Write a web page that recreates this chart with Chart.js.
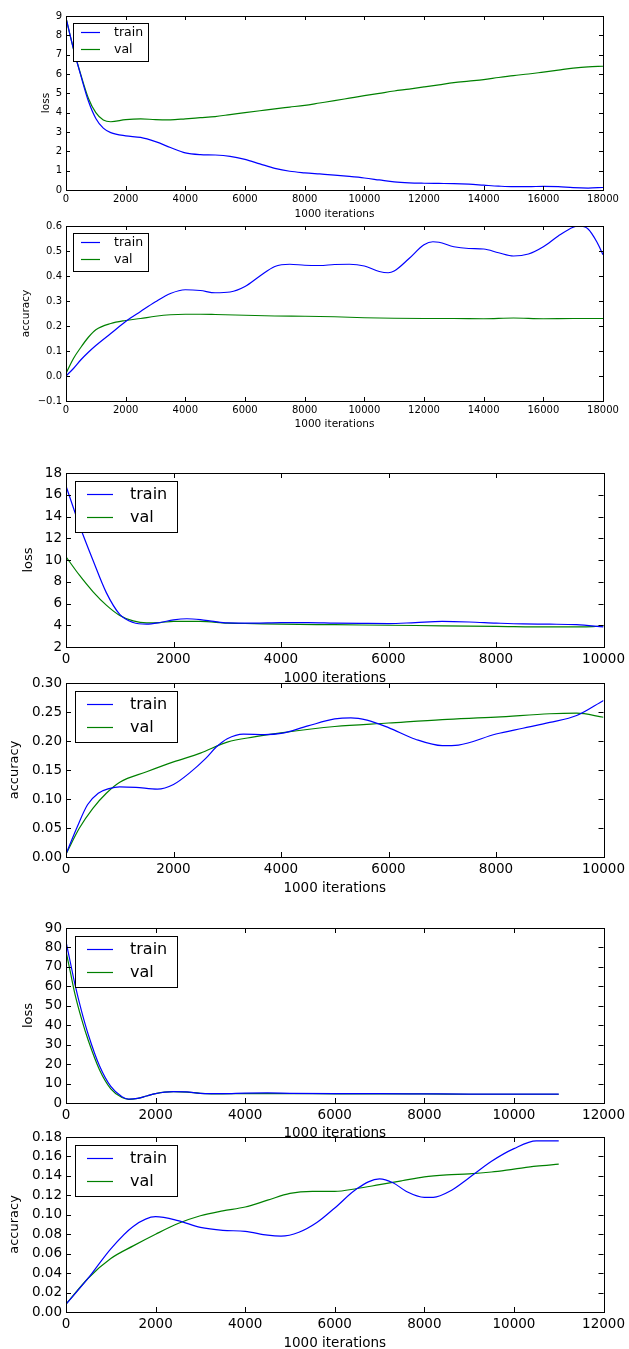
<!DOCTYPE html>
<html><head><meta charset="utf-8">
<script src="https://cdn.jsdelivr.net/npm/chart.js@4.4.0/dist/chart.umd.min.js"></script>
<style>
html,body{margin:0;padding:0;background:#fff;overflow:hidden;width:629px;height:1349px;position:relative}
canvas{position:absolute;left:0}
</style>
</head><body>
<canvas id="c1"></canvas><canvas id="c2"></canvas><canvas id="c3"></canvas>
<canvas id="c4"></canvas><canvas id="c5"></canvas><canvas id="c6"></canvas>
<script>
// ---------- data ----------
const seriesLabels = ['train', 'val'];
const xAxisLabel = '1000 iterations';

// plot 1: loss, 18000 iterations
const p1Iter = [0,250,500,750,1000,1250,1500,2000,2500,3000,3500,4000,4500,5000,5500,6000,6500,7000,7500,8000,8500,9000,9500,10000,10500,11000,11500,12000,12500,13000,13500,14000,14500,15000,15500,16000,16500,17000,17500,18000];
const p1Train = [8.9,7.3,5.9,4.6,3.7,3.2,2.97,2.8,2.72,2.5,2.2,1.92,1.83,1.81,1.74,1.58,1.35,1.12,0.97,0.89,0.83,0.77,0.7,0.62,0.52,0.42,0.37,0.35,0.34,0.33,0.3,0.25,0.2,0.17,0.17,0.19,0.17,0.12,0.1,0.13];
const p1Val = [8.9,7.3,5.95,4.75,4.0,3.62,3.53,3.64,3.68,3.64,3.63,3.68,3.74,3.8,3.9,4.0,4.1,4.2,4.29,4.38,4.5,4.62,4.75,4.88,5.0,5.12,5.22,5.33,5.44,5.55,5.63,5.71,5.82,5.92,6.0,6.1,6.2,6.3,6.37,6.4];

// plot 2: accuracy, 18000 iterations
const p2TrainIter = [0,250,500,750,1000,1500,2000,2500,3000,3500,4000,4500,5000,5500,6000,6500,7000,7500,8000,8500,9000,9500,10000,10500,10800,11000,11500,12000,12300,12500,13000,13500,14000,14500,15000,15500,16000,16500,17000,17200,17500,17800,18000];
const p2Train = [0.0,0.03,0.065,0.095,0.122,0.17,0.218,0.258,0.297,0.33,0.345,0.342,0.333,0.336,0.358,0.4,0.438,0.447,0.443,0.442,0.446,0.447,0.44,0.418,0.413,0.42,0.47,0.525,0.537,0.535,0.517,0.51,0.508,0.493,0.48,0.488,0.517,0.56,0.595,0.6,0.588,0.535,0.485];
const p2ValIter = [0,250,500,750,1000,1500,2000,2500,3000,3500,4000,4500,5000,6000,7000,8000,9000,10000,11000,12000,13000,14000,15000,16000,17000,18000];
const p2Val = [0.01,0.07,0.115,0.155,0.185,0.21,0.222,0.23,0.239,0.245,0.247,0.247,0.246,0.243,0.24,0.239,0.237,0.233,0.231,0.23,0.23,0.229,0.232,0.229,0.23,0.23];

// plot 3: loss, 10000 iterations
const p3TrainIter = [0,250,500,750,1000,1250,1500,1750,2000,2250,2500,2750,3000,3500,4000,4500,5000,5500,6000,6500,7000,7500,8000,8500,9000,9500,10000];
const p3Train = [16.8,13.2,10.0,7.0,5.0,4.25,4.1,4.25,4.5,4.6,4.52,4.35,4.22,4.2,4.25,4.25,4.2,4.17,4.15,4.25,4.35,4.3,4.2,4.12,4.1,4.05,3.85];
const p3ValIter = [0,250,500,750,1000,1250,1500,1750,2000,2500,3000,3500,4000,5000,6000,7000,8000,9000,9500,9800,10000];
const p3Val = [10.3,8.6,7.1,5.85,4.9,4.4,4.22,4.25,4.35,4.35,4.2,4.15,4.1,4.05,4.0,3.95,3.9,3.85,3.85,3.87,3.97];

// plot 4: accuracy, 10000 iterations
const p4TrainIter = [0,200,400,600,800,1000,1300,1700,2000,2300,2600,2800,3000,3300,3700,4000,4500,5000,5300,5600,6000,6500,7000,7300,8000,8500,9000,9500,10000];
const p4Train = [0.005,0.05,0.09,0.11,0.118,0.121,0.12,0.117,0.125,0.145,0.17,0.19,0.204,0.212,0.211,0.213,0.226,0.238,0.24,0.236,0.223,0.203,0.192,0.193,0.212,0.222,0.232,0.244,0.27];
const p4ValIter = [0,250,500,750,1000,1500,2000,2500,3000,3500,4000,5000,6000,7000,8000,9000,9500,10000];
const p4Val = [0.005,0.05,0.084,0.11,0.129,0.147,0.164,0.179,0.198,0.207,0.214,0.225,0.231,0.237,0.241,0.247,0.248,0.241];

// plot 5: loss, 11000 iterations
const p5Iter = [0,100,200,350,500,750,1000,1250,1400,1600,1800,2000,2200,2400,2700,3000,3500,4000,4500,5000,6000,7000,8000,9000,10000,11000];
const p5Train = [83,72,61,47,35,19,8.5,3.2,2.0,2.4,3.6,4.8,5.6,5.9,5.7,5.0,4.8,5.1,5.2,5.0,4.8,4.8,4.7,4.6,4.6,4.6];
const p5Val = [78,67,56,43,32,17,7.3,2.8,1.9,2.4,3.6,4.8,5.6,5.8,5.6,5.0,4.7,4.8,4.8,4.8,4.7,4.7,4.7,4.5,4.5,4.5];

// plot 6: accuracy, 11000 iterations
const p6TrainIter = [0,500,1000,1500,2000,2500,3000,3500,4000,4500,4800,5200,5600,6000,6500,7000,7300,7600,8000,8200,8600,9000,9500,10000,10500,11000];
const p6Train = [0.008,0.035,0.065,0.088,0.098,0.094,0.087,0.084,0.083,0.079,0.078,0.082,0.092,0.107,0.127,0.137,0.133,0.124,0.118,0.118,0.125,0.138,0.155,0.168,0.176,0.176];
const p6ValIter = [0,500,1000,1500,2000,2500,3000,3500,4000,4500,5000,5500,6000,6500,7000,7500,8000,8500,9000,9500,10000,10500,11000];
const p6Val = [0.008,0.035,0.055,0.068,0.08,0.091,0.099,0.104,0.108,0.115,0.122,0.124,0.124,0.127,0.131,0.135,0.139,0.141,0.142,0.144,0.147,0.15,0.152];

// ---------- rendering ----------
const FONT = "'DejaVu Sans', sans-serif";
const COLORS = ['#0000ff', '#008000'];
Chart.defaults.color = '#000';
Chart.defaults.font.family = FONT;

const framePlugin = {
  id: 'mplFrame',
  afterDatasetsDraw(chart, args, opts) {
    const ctx = chart.ctx, a = chart.chartArea;
    const xs = chart.scales.x, ys = chart.scales.y;
    const L = opts.tickLen;
    ctx.save();
    ctx.strokeStyle = '#000'; ctx.lineWidth = 1;
    ctx.beginPath();
    xs.ticks.forEach(t => {
      const px = Math.round(xs.getPixelForValue(t.value)) + 0.5;
      ctx.moveTo(px, a.bottom); ctx.lineTo(px, a.bottom - L);
      ctx.moveTo(px, a.top); ctx.lineTo(px, a.top + L);
    });
    ys.ticks.forEach(t => {
      const py = Math.round(ys.getPixelForValue(t.value)) + 0.5;
      ctx.moveTo(a.left, py); ctx.lineTo(a.left + L, py);
      ctx.moveTo(a.right, py); ctx.lineTo(a.right - L, py);
    });
    ctx.stroke();
    ctx.strokeRect(Math.round(a.left) + 0.5, Math.round(a.top) + 0.5, Math.round(a.right - a.left), Math.round(a.bottom - a.top));
    // legend box
    const lg = opts.legend;
    const bx = Math.round(a.left + lg.x), by = Math.round(a.top + lg.y);
    ctx.fillStyle = '#fff';
    ctx.fillRect(bx, by, lg.w, lg.h);
    ctx.strokeStyle = '#000';
    ctx.strokeRect(bx + 0.5, by + 0.5, lg.w, lg.h);
    ctx.font = lg.size + 'px ' + FONT;
    ctx.textBaseline = 'middle'; ctx.textAlign = 'left';
    chart.data.datasets.forEach((ds, i) => {
      const ry = Math.round(a.top + lg.rows[i]) + 0.5;
      ctx.strokeStyle = ds.borderColor; ctx.lineWidth = 1.2;
      ctx.beginPath(); ctx.moveTo(a.left + lg.l0, ry); ctx.lineTo(a.left + lg.l1, ry); ctx.stroke();
      ctx.fillStyle = '#000';
      ctx.fillText(ds.label, a.left + lg.tx, ry);
    });
    ctx.restore();
  }
};

function fmt(v, dec) {
  let n = Number(v);
  if (Math.abs(n) < 1e-9) n = 0;
  const s = n.toFixed(dec);
  return s.replace('-', '\u2212');
}

function makePlot(id, s) {
  const lhX = s.xTitleSize * 1.2, lhY = s.yTitleSize * 1.2;
  const padTop = 14;
  const top = s.ct - padTop;
  const titleBottom = s.xt + lhX / 2;
  const H = Math.ceil(titleBottom + 2 - top);
  const cv = document.getElementById(id);
  cv.width = 629; cv.height = H;
  cv.style.top = top + 'px'; cv.style.width = '629px'; cv.style.height = H + 'px';
  const padLeft = s.yt - lhY / 2;
  const padBottom = (top + H) - titleBottom;
  const xAxisH = titleBottom - s.cb;
  const datasets = s.series.map((sr, i) => ({
    label: seriesLabels[i],
    data: sr.x.map((xv, k) => ({x: xv, y: sr.y[k]})),
    borderColor: COLORS[i],
    borderWidth: 1.2,
    pointRadius: 0,
    fill: false,
    cubicInterpolationMode: 'monotone'
  }));
  new Chart(cv, {
    type: 'line',
    data: {datasets},
    options: {
      responsive: false, animation: false, devicePixelRatio: 1,
      layout: {padding: {top: padTop, left: padLeft, right: 629 - s.r, bottom: padBottom}},
      plugins: {
        legend: {display: false}, tooltip: {enabled: false},
        mplFrame: {tickLen: s.tickLen, legend: s.legend}
      },
      scales: {
        x: {
          type: 'linear', min: s.xMin, max: s.xMax,
          grid: {display: false, drawTicks: false}, border: {display: false},
          ticks: {stepSize: s.xStep, autoSkip: false, maxRotation: 0, minRotation: 0, padding: s.xTickPad,
                  font: {size: s.tickSize}, color: '#000', callback: v => String(v)},
          title: {display: true, text: xAxisLabel, padding: 0, color: '#000', font: {size: s.xTitleSize, lineHeight: 1.2}},
          afterFit: sc => { sc.height = xAxisH; }
        },
        y: {
          type: 'linear', min: s.yMin, max: s.yMax,
          grid: {display: false, drawTicks: false}, border: {display: false},
          ticks: {stepSize: s.yStep, autoSkip: false, padding: 4, font: {size: s.tickSize}, color: '#000',
                  callback: v => fmt(v, s.yDec)},
          title: {display: true, text: s.yLabel, padding: 0, color: '#000', font: {size: s.yTitleSize, lineHeight: 1.2}},
          afterFit: sc => { sc.width = 66 - padLeft; }
        }
      }
    },
    plugins: [framePlugin]
  });
}

const smallLegend = {x: 7, y: 7, w: 75, h: 38, l0: 15, l1: 34, tx: 48, rows: [15.7, 33.3], size: 12.5};
const bigLegend = {x: 9, y: 8, w: 102, h: 51, l0: 21, l1: 47, tx: 64, rows: [20.7, 43.5], size: 16};

const small = {tickSize: 10, xTitleSize: 10.5, yTitleSize: 10.5, xTickPad: 3.5, tickLen: 4, legend: smallLegend};
const big = {tickSize: 13.5, xTitleSize: 13.5, yTitleSize: 13, xTickPad: 4, tickLen: 5, legend: bigLegend};

makePlot('c1', Object.assign({}, small, {ct: 16, cb: 190, r: 603, xt: 214, yt: 46,
  xMin: 0, xMax: 18000, xStep: 2000, yMin: 0, yMax: 9, yStep: 1, yDec: 0, yLabel: 'loss',
  series: [{x: p1Iter, y: p1Train}, {x: p1Iter, y: p1Val}]}));
makePlot('c2', Object.assign({}, small, {ct: 226, cb: 401, r: 603, xt: 424, yt: 26,
  xMin: 0, xMax: 18000, xStep: 2000, yMin: -0.1, yMax: 0.6, yStep: 0.1, yDec: 1, yLabel: 'accuracy',
  series: [{x: p2TrainIter, y: p2Train}, {x: p2ValIter, y: p2Val}]}));
makePlot('c3', Object.assign({}, big, {ct: 473, cb: 647, r: 607, xt: 678, yt: 29,
  xMin: 0, xMax: 10000, xStep: 2000, yMin: 2, yMax: 18, yStep: 2, yDec: 0, yLabel: 'loss',
  series: [{x: p3TrainIter, y: p3Train}, {x: p3ValIter, y: p3Val}]}));
makePlot('c4', Object.assign({}, big, {ct: 683, cb: 857, r: 607, xt: 888, yt: 15,
  xMin: 0, xMax: 10000, xStep: 2000, yMin: 0, yMax: 0.3, yStep: 0.05, yDec: 2, yLabel: 'accuracy',
  series: [{x: p4TrainIter, y: p4Train}, {x: p4ValIter, y: p4Val}]}));
makePlot('c5', Object.assign({}, big, {ct: 928, cb: 1103, r: 607, xt: 1133, yt: 29,
  xMin: 0, xMax: 12000, xStep: 2000, yMin: 0, yMax: 90, yStep: 10, yDec: 0, yLabel: 'loss',
  series: [{x: p5Iter, y: p5Train}, {x: p5Iter, y: p5Val}]}));
makePlot('c6', Object.assign({}, big, {ct: 1137, cb: 1312, r: 607, xt: 1343, yt: 15,
  xMin: 0, xMax: 12000, xStep: 2000, yMin: 0, yMax: 0.18, yStep: 0.02, yDec: 2, yLabel: 'accuracy',
  series: [{x: p6TrainIter, y: p6Train}, {x: p6ValIter, y: p6Val}]}));
</script>
</body></html>
